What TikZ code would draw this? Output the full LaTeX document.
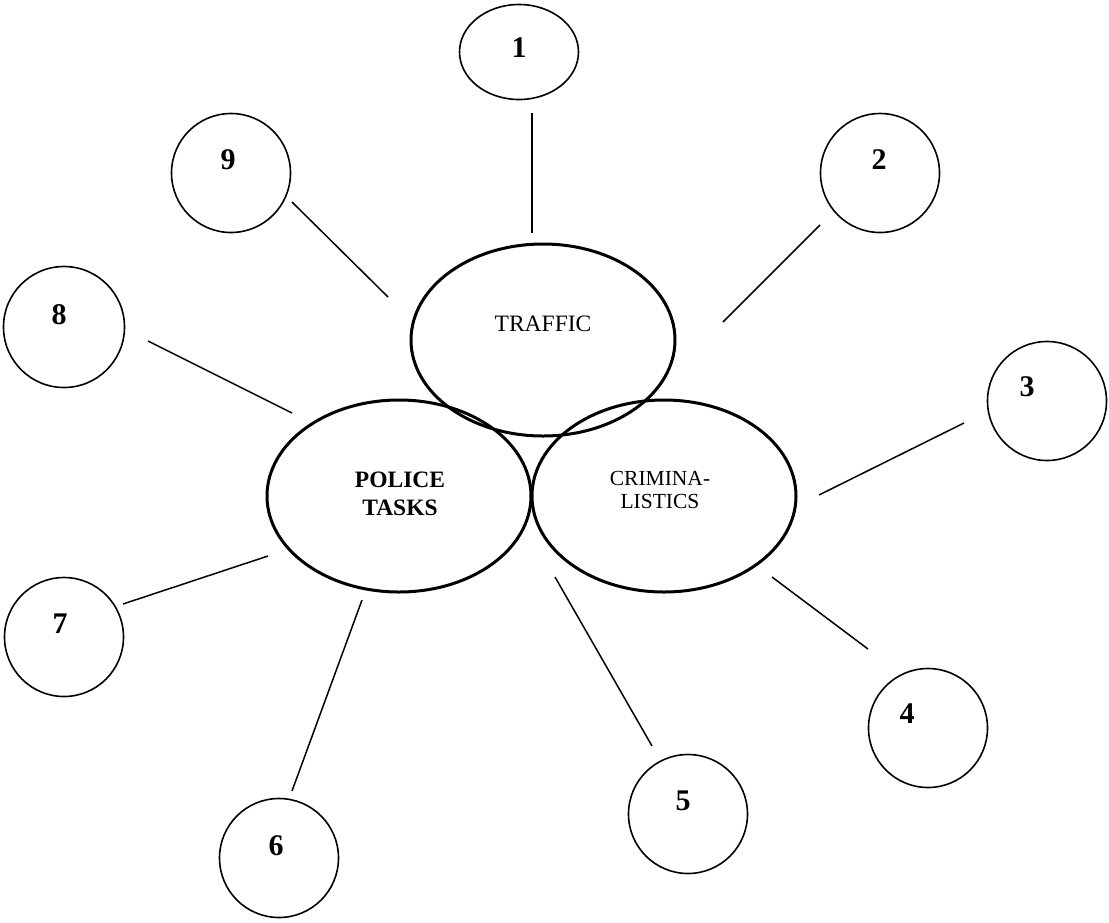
\documentclass[tikz,border=0pt]{standalone}
\usepackage{fontspec}
\setmainfont{Liberation Serif}
\usetikzlibrary{shapes.geometric}
\begin{document}
\begin{tikzpicture}[x=1pt,y=-1pt,
  bigell/.style={ellipse,draw,line width=3pt,inner sep=0pt,minimum width=264pt,minimum height=192pt},
  numcirc/.style={ellipse,draw,line width=1.6pt,inner sep=0pt,minimum width=119pt,minimum height=119pt},
  numlbl/.style={anchor=base,inner sep=0pt,font=\fontsize{30}{36}\selectfont\bfseries},
  ctrlbl/.style={anchor=base,inner sep=0pt,font=\fontsize{23.5}{28}\selectfont},
  crimlbl/.style={anchor=base,inner sep=0pt,font=\fontsize{21.5}{24}\selectfont},
  polbl/.style={anchor=base,inner sep=0pt,font=\fontsize{23.5}{28}\selectfont\bfseries},
  conn/.style={draw,line width=1.5pt}]
\useasboundingbox (0,0) rectangle (1109,922);
% central ellipses
\node[bigell] (traffic) at (543,340) {};
\node[bigell] (police) at (399,496) {};
\node[bigell] (crim) at (664,496) {};
\node[ctrlbl] (ttraffic) at (543,331) {TRAFFIC};
\node[polbl] (tpol1) at (400,487) {POLICE};
\node[polbl] (tpol2) at (400,515) {TASKS};
\node[crimlbl] (tcrim1) at (660,485) {CRIMINA-};
\node[crimlbl] (tcrim2) at (660,508) {LISTICS};
% numbered circles
\node[numcirc,minimum height=95pt] (c1) at (519,52) {};
\node[numcirc] (c2) at (880,173) {};
\node[numcirc] (c3) at (1047,401) {};
\node[numcirc] (c4) at (928,728) {};
\node[numcirc] (c5) at (688,814) {};
\node[numcirc] (c6) at (279,858) {};
\node[numcirc] (c7) at (64,637) {};
\node[numcirc,minimum width=121pt,minimum height=121pt] (c8) at (64,327) {};
\node[numcirc] (c9) at (231,173) {};
\node[numlbl] (n1) at (519,57) {1};
\node[numlbl] (n2) at (879,169) {2};
\node[numlbl] (n3) at (1027,396) {3};
\node[numlbl] (n4) at (907,723) {4};
\node[numlbl] (n5) at (683,810) {5};
\node[numlbl] (n6) at (276,855) {6};
\node[numlbl] (n7) at (60,633) {7};
\node[numlbl] (n8) at (59,324) {8};
\node[numlbl] (n9) at (228,169) {9};
% connector end points
\coordinate (a1) at (532,113); \coordinate (b1) at (532,233);
\coordinate (a2) at (820,225); \coordinate (b2) at (723,322);
\coordinate (a3) at (964,423); \coordinate (b3) at (819,495);
\coordinate (a4) at (868,649); \coordinate (b4) at (772,577);
\coordinate (a5) at (652,746); \coordinate (b5) at (555,577);
\coordinate (a6) at (292,791); \coordinate (b6) at (362,600);
\coordinate (a7) at (123,604); \coordinate (b7) at (268,556);
\coordinate (a8) at (148,341); \coordinate (b8) at (292,413);
\coordinate (a9) at (292,202); \coordinate (b9) at (388,297);
\foreach \i in {1,...,9} { \path[conn] (a\i) -- (b\i); }
\end{tikzpicture}
\end{document}
